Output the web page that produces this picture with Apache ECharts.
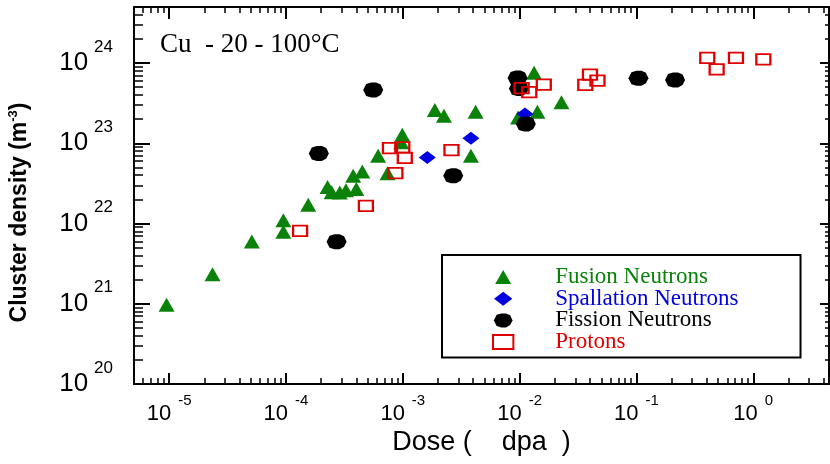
<!DOCTYPE html>
<html><head><meta charset="utf-8">
<script src="https://cdn.jsdelivr.net/npm/echarts@6/dist/echarts.min.js"></script>
<style>html,body{margin:0;padding:0;background:#fff}#c{width:830px;height:464px}</style>
</head><body><div id="c"></div>
<script>
// ---- Data: dose (dpa) and cluster density (m^-3) ----
const fusionDose    = [9.5e-6, 2.35e-5, 5.1e-5, 9.5e-5, 9.5e-5, 1.55e-4, 2.27e-4, 2.46e-4, 2.89e-4, 3.26e-4, 4.0e-4, 3.76e-4, 4.5e-4, 6.15e-4, 7.4e-4, 9.9e-4, 9.7e-4, 1.88e-3, 2.25e-3, 4.2e-3, 3.83e-3, 1.33e-2, 2.28e-2, 1.42e-2, 9.7e-3];
const fusionDensity = [9.7e20, 2.33e21, 5.96e21, 1.10e22, 7.9e21, 1.71e22, 2.85e22, 2.45e22, 2.44e22, 2.6e22, 2.69e22, 3.95e22, 4.46e22, 7.0e22, 4.24e22, 1.28e23, 1.03e23, 2.61e23, 2.21e23, 2.48e23, 7.0e22, 7.6e23, 3.25e23, 2.48e23, 2.1e23];

const spallDose     = [1.62e-3, 3.83e-3, 1.11e-2];
const spallDensity  = [6.67e22, 1.16e23, 2.32e23];

const fissionDose    = [1.91e-4, 2.71e-4, 5.58e-4, 2.70e-3, 9.6e-3, 9.86e-3, 1.13e-2, 0.104, 0.214];
const fissionDensity = [7.48e22, 5.92e21, 4.62e23, 3.95e22, 6.5e23, 4.81e23, 1.74e23, 6.46e23, 6.17e23];

const protonDose    = [1.32e-4, 4.83e-4, 8.64e-4, 7.76e-4, 9.9e-4, 1.04e-3, 2.61e-3, 1.04e-2, 1.21e-2, 1.61e-2, 4.0e-2, 3.65e-2, 4.64e-2, 0.404, 0.486, 0.711, 1.22];
const protonDensity = [8.1e21, 1.66e22, 4.26e22, 8.73e22, 8.9e22, 6.6e22, 8.2e22, 4.88e23, 4.35e23, 5.4e23, 7.18e23, 5.34e23, 6.05e23, 1.16e24, 8.37e23, 1.16e24, 1.11e24];

const seriesNames = ['Fusion Neutrons', 'Spallation Neutrons', 'Fission Neutrons', 'Protons'];
const xMajorTicks = [1e-5, 1e-4, 1e-3, 1e-2, 1e-1, 1];
const yMajorTicks = [1e20, 1e21, 1e22, 1e23, 1e24];
const X_MIN = 5e-6, X_MAX = 4.45, Y_MIN = 1e20, Y_MAX = 5e24;
const titleText = 'Cu  - 20 - 100°C';

// ---- helpers ----
const L = Math.log10;
function minorTicks(lo, hi) {
  const out = [];
  for (let e = Math.floor(L(lo)); e <= Math.ceil(L(hi)); e++) {
    for (let k = 2; k <= 9; k++) {
      const v = k * Math.pow(10, e);
      if (v > lo && v < hi) out.push(L(v));
    }
  }
  return out;
}
const pairs = (xs, ys) => xs.map((x, i) => [L(x), L(ys[i])]);

const xMin = L(X_MIN), xMax = L(X_MAX), yMin = L(Y_MIN), yMax = L(Y_MAX);
const xMaj = xMajorTicks.map(L), yMaj = yMajorTicks.map(L);
const xMin_ = minorTicks(X_MIN, X_MAX), yMin_ = minorTicks(Y_MIN, Y_MAX);

const supFmt = v => '{b|10}{s|' + Math.round(v) + '}';
const FONT = 'Liberation Sans, Arial';
const xRich = {
  b: { fontFamily: FONT, fontSize: 22, color: '#000' },
  s: { fontFamily: FONT, fontSize: 15, color: '#000', padding: [0, 0, 26, 7] }
};
const yRich = {
  b: { fontFamily: FONT, fontSize: 26, color: '#000' },
  s: { fontFamily: FONT, fontSize: 17, color: '#000', padding: [0, 0, 32, 6] }
};

function xAx(pos, vals, len, width, withLine, withLabel) {
  return {
    type: 'value', position: pos, min: xMin, max: xMax, gridIndex: 0,
    axisLine: { show: withLine, onZero: false, lineStyle: { color: '#000', width: 2 } },
    axisTick: { show: true, inside: true, length: len, customValues: vals, lineStyle: { color: '#000', width: width } },
    axisLabel: withLabel ? { show: true, customValues: xMaj, formatter: supFmt, margin: 9, rich: xRich } : { show: false },
    splitLine: { show: false }
  };
}
function yAx(pos, vals, len, width, withLine, withLabel) {
  return {
    type: 'value', position: pos, min: yMin, max: yMax, gridIndex: 0,
    axisLine: { show: withLine, onZero: false, lineStyle: { color: '#000', width: 2 } },
    axisTick: { show: true, inside: true, length: len, customValues: vals, lineStyle: { color: '#000', width: width } },
    axisLabel: withLabel ? { show: true, customValues: yMaj, formatter: supFmt, margin: 21, rich: yRich } : { show: false },
    splitLine: { show: false }
  };
}

const xAxes = [xAx('bottom', xMaj, 11, 2, true, true), xAx('bottom', xMin_, 6, 1.5, false, false),
               xAx('top', xMaj, 12, 2, true, false), xAx('top', xMin_, 6, 1.5, false, false)];
Object.assign(xAxes[0], {
  name: 'Dose (    dpa  )', nameLocation: 'middle', nameGap: 45, nameMoveOverlap: false,
  nameTextStyle: { fontFamily: FONT, fontSize: 27, color: '#000' }
});
const yAxes = [yAx('left', yMaj, 16, 2, true, true), yAx('left', yMin_, 9, 1.5, false, false),
               yAx('right', yMaj, 9, 2, true, false), yAx('right', yMin_, 4, 1.5, false, false)];
Object.assign(yAxes[0], {
  name: '{a|Cluster density (m}{p|-3}{a|)}', nameLocation: 'middle', nameGap: 101, nameMoveOverlap: false,
  nameTextStyle: {
    padding: [0, 34, 0, 0],
    rich: {
      a: { fontFamily: FONT, fontSize: 23, fontWeight: 'bold', color: '#000' },
      p: { fontFamily: FONT, fontSize: 13, fontWeight: 'bold', color: '#000', padding: [0, 0, 13, 0] }
    }
  }
});

const GREEN = '#0a820a', BLUE = '#0000e0', BLACK = '#000000', RED = '#e00000';
const triPath = 'path://M8,0L16,14L0,14Z';
const diaPath = 'path://M8.5,0L17,6.5L8.5,13L0,6.5Z';
const blobPath = 'path://M3,1.5L8,0L13,0L17.5,2L20,7.5L17.5,12.5L13,15L8,15L3,13.5L0,7.5Z';
const rectPath = 'path://M0,0L16,0L16,11L0,11Z';

const option = {
  animation: false,
  backgroundColor: '#fff',
  title: {
    text: titleText, left: 160, top: 31, padding: 0,
    textStyle: { fontFamily: 'Liberation Serif, Times New Roman', fontSize: 27, fontWeight: 'normal', color: '#000' }
  },
  grid: { left: 134, right: 1, top: 7, bottom: 80, containLabel: false, outerBoundsMode: 'none' },
  xAxis: xAxes,
  yAxis: yAxes,
  legend: {
    orient: 'vertical', left: 442, top: 255, selectedMode: false,
    itemWidth: 94, itemHeight: 14, itemGap: -1.3, symbolKeepAspect: true,
    padding: [10.5, 62, 4, 50],
    borderColor: '#000', borderWidth: 2, backgroundColor: '#fff',
    textStyle: { fontFamily: 'Liberation Serif, Times New Roman', fontSize: 23 },
    data: [
      { name: seriesNames[0], icon: triPath, textStyle: { color: GREEN } },
      { name: seriesNames[1], icon: diaPath, textStyle: { color: BLUE } },
      { name: seriesNames[2], icon: blobPath, textStyle: { color: BLACK } },
      { name: seriesNames[3], icon: rectPath, textStyle: { color: RED } }
    ]
  },
  series: [
    { name: seriesNames[0], type: 'scatter', data: pairs(fusionDose, fusionDensity), symbol: 'triangle', symbolSize: [16, 14],
      itemStyle: { color: GREEN, opacity: 1 } },
    { name: seriesNames[1], type: 'scatter', data: pairs(spallDose, spallDensity), symbol: 'diamond', symbolSize: [17, 13],
      itemStyle: { color: BLUE, opacity: 1 } },
    { name: seriesNames[2], type: 'scatter', data: pairs(fissionDose, fissionDensity), symbol: blobPath, symbolSize: [20, 15],
      itemStyle: { color: BLACK, opacity: 1 } },
    { name: seriesNames[3], type: 'scatter', data: pairs(protonDose, protonDensity), symbol: 'rect', symbolSize: [14, 10.5],
      itemStyle: { color: 'rgba(255,255,255,0)', borderColor: RED, borderWidth: 2, opacity: 1 } }
  ]
};
const chart = echarts.init(document.getElementById('c'), null, { renderer: 'canvas' });
chart.setOption(option);
</script></body></html>
